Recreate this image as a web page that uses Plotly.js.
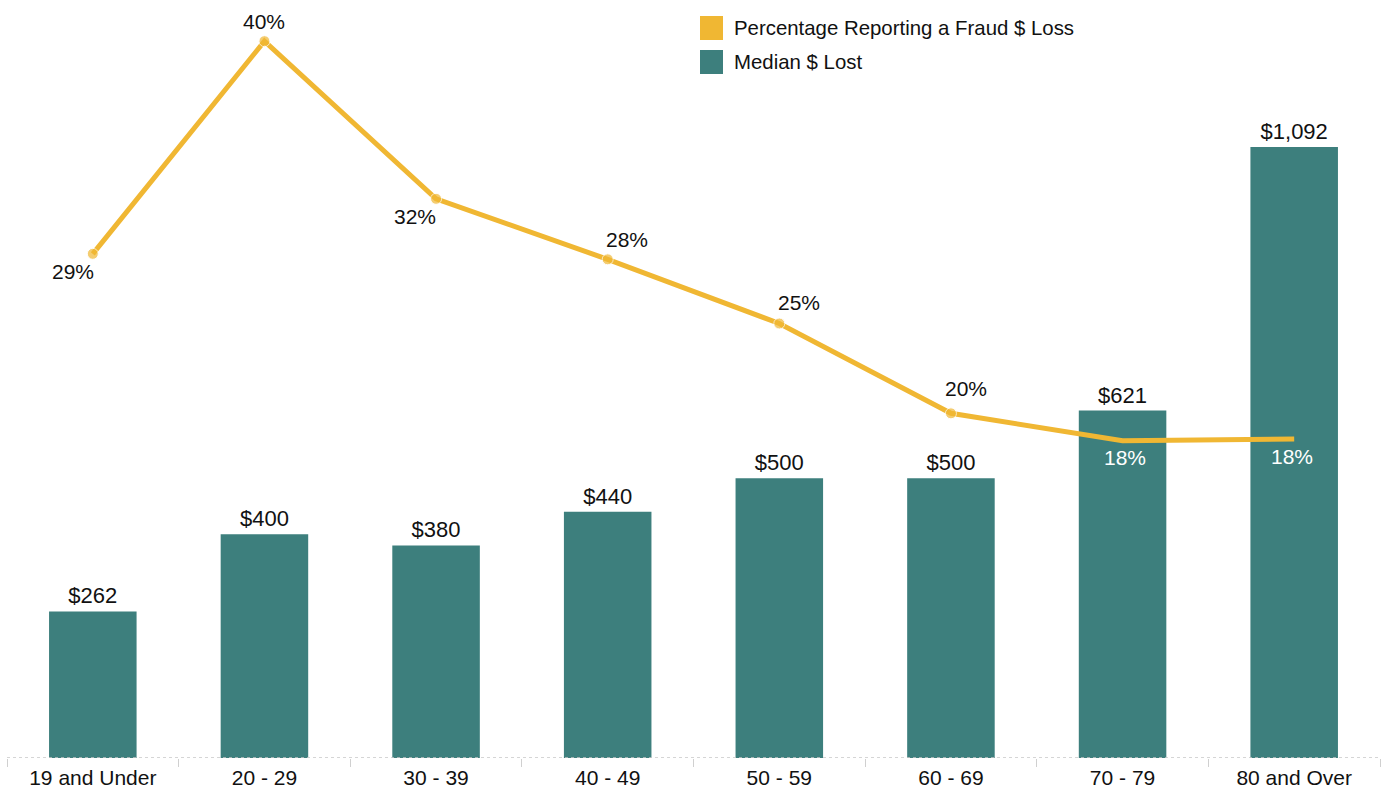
<!DOCTYPE html>
<html>
<head>
<meta charset="utf-8">
<script src="https://cdn.plot.ly/plotly-3.0.1.min.js"></script>
<style>
  html, body { margin: 0; padding: 0; background: #fff; }
  #chart { width: 1384px; height: 791px; }
</style>
</head>
<body>
<div id="chart"></div>
<script>
/* ==========================================================
   DATA
========================================================== */
const ageGroups = ["19 and Under", "20 - 29", "30 - 39", "40 - 49", "50 - 59", "60 - 69", "70 - 79", "80 and Over"];
const medianLost = [262, 400, 380, 440, 500, 500, 621, 1092];
const pctReporting = [28.5, 40.1, 31.5, 28.2, 24.7, 19.8, 18.3, 18.4];

/* ==========================================================
   STYLE
========================================================== */
const teal = "#3d7f7d";
const gold = "#f0b733";
const fontFam = "'Liberation Sans', Arial, sans-serif";

// label offsets (px) for the percent labels, relative to each point
const pctShiftX = [-20, 0, -21, 19, 20, 15, 2, -2];
const pctShiftY = [-18, 20, -18, 20, 21, 25, -17, -17];
const pctColor = ["#111", "#111", "#111", "#111", "#111", "#111", "#fff", "#fff"];
const markerSizes = [11, 11, 11, 11, 11, 11, 0, 0];

const traceBars = {
  type: "bar",
  x: ageGroups,
  y: medianLost,
  marker: { color: teal },
  text: medianLost.map(v => "$" + v.toLocaleString("en-US")),
  textposition: "outside",
  textfont: { family: fontFam, size: 22, color: "#111" },
  cliponaxis: false,
  hoverinfo: "x+y",
  showlegend: false
};

const traceLine = {
  type: "scatter",
  mode: "lines+markers",
  x: ageGroups,
  y: pctReporting,
  yaxis: "y2",
  line: { color: gold, width: 5 },
  marker: { color: gold, size: markerSizes },
  cliponaxis: false,
  showlegend: false
};

// percent labels
const annotations = pctReporting.map((v, i) => ({
  x: ageGroups[i],
  y: v,
  xref: "x",
  yref: "y2",
  text: Math.round(v) + "%",
  showarrow: false,
  xshift: pctShiftX[i],
  yshift: pctShiftY[i],
  font: { family: fontFam, size: 21, color: pctColor[i] }
}));

// legend (drawn by hand so both keys are squares)
const legendItems = [
  { name: "Percentage Reporting a Fraud $ Loss", color: gold, y0: 16 },
  { name: "Median $ Lost", color: teal, y0: 50 }
];
const shapes = [];
legendItems.forEach(item => {
  shapes.push({
    type: "rect", xref: "paper", yref: "paper",
    x0: (700 - 7) / 1373, x1: (723 - 7) / 1373,
    y0: 1 - (item.y0 + 24 - 10) / 748, y1: 1 - (item.y0 - 10) / 748,
    fillcolor: item.color, line: { width: 0 }
  });
  annotations.push({
    xref: "paper", yref: "paper",
    x: (732 - 7) / 1373, y: 1 - (item.y0 + 12 - 10) / 748,
    xanchor: "left", yanchor: "middle",
    text: item.name, showarrow: false,
    font: { family: fontFam, size: 20.4, color: "#111" }
  });
});

// dotted baseline
shapes.push({
  type: "line", xref: "paper", yref: "y",
  x0: 0, x1: 1, y0: 0, y1: 0,
  line: { color: "#c8c8c8", width: 1.5, dash: "dot" }
});

const layout = {
  width: 1384,
  height: 791,
  margin: { l: 7, r: 4, t: 10, b: 33 },
  paper_bgcolor: "#fff",
  plot_bgcolor: "#fff",
  bargap: 0.49,
  font: { family: fontFam, color: "#111" },
  xaxis: {
    type: "category",
    showgrid: false,
    showline: false,
    zeroline: false,
    ticks: "outside",
    tickson: "boundaries",
    ticklen: 8,
    tickcolor: "#d0d0d0",
    ticklabelstandoff: 5,
    tickfont: { family: fontFam, size: 21, color: "#111" }
  },
  yaxis: {
    range: [0, 1337],
    showgrid: false,
    zeroline: false,
    showticklabels: false,
    fixedrange: true
  },
  yaxis2: {
    overlaying: "y",
    side: "right",
    range: [1.0, 41.8],
    showgrid: false,
    zeroline: false,
    showticklabels: false
  },
  shapes: shapes,
  annotations: annotations
};

Plotly.newPlot("chart", [traceBars, traceLine], layout, { displayModeBar: false, responsive: false });
</script>
</body>
</html>
